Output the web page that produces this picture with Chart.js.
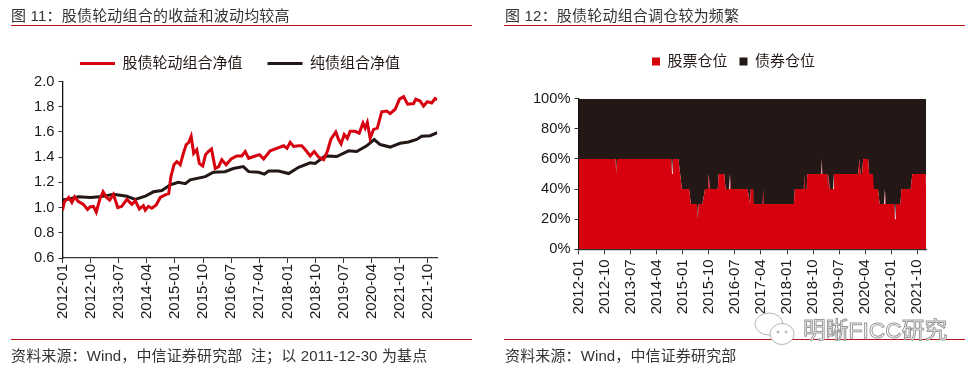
<!DOCTYPE html>
<html>
<head>
<meta charset="utf-8">
<script src="https://cdn.jsdelivr.net/npm/chart.js@4"></script>
<style>
  body { margin: 0; background: #fff; width: 978px; height: 373px; overflow: hidden; position: relative;
    font-family: "Liberation Sans", "Noto Sans CJK SC", sans-serif; color: #231815; }
  canvas { position: absolute; top: 0; }
  .title, .source { position: absolute; font-size: 15px; line-height: 18px; white-space: pre; color: #333; }
  .title { top: 7px; letter-spacing: 0.2px; }
  .source { top: 347px; letter-spacing: 0.13px; }
  .rule { position: absolute; height: 1px; background: #b8141a; }
  .mark { position: absolute; left: 803px; top: 315px; font-size: 22.8px; line-height: 30px; white-space: nowrap;
    color: #fff; -webkit-text-stroke: 1px #9a9a9a; }
  svg { position: absolute; left: 752px; top: 310px; }
</style>
</head>
<body>
<canvas id="chart-left" style="left:0"></canvas>
<canvas id="chart-right" style="left:490px"></canvas>

<div class="title" style="left:11px">图 11：股债轮动组合的收益和波动均较高</div>
<div class="rule" style="left:11px;width:461px;top:25px"></div>
<div class="rule" style="left:11px;width:461px;top:339px"></div>
<div class="source" style="left:11px">资料来源：Wind，中信证券研究部  注；以 2011-12-30 为基点</div>

<div class="title" style="left:505px">图 12：股债轮动组合调仓较为频繁</div>
<div class="rule" style="left:504px;width:461px;top:25px"></div>
<div class="rule" style="left:504px;width:461px;top:339px"></div>
<div class="source" style="left:505px">资料来源：Wind，中信证券研究部</div>

<svg width="46" height="38" fill="#fff" stroke="#b4b4b4" stroke-width="1">
  <ellipse cx="17" cy="14" rx="14" ry="11"/>
  <ellipse cx="30" cy="24" rx="12" ry="10.5"/>
  <circle cx="26" cy="22" r="1" fill="#a8a8a8"/>
  <circle cx="34" cy="22" r="1" fill="#a8a8a8"/>
</svg>
<div class="mark">明晰FICC研究</div>

<script>
// x positions below are months since 2012-01
const tickLabels = ["2012-01", "2012-10", "2013-07", "2014-04", "2015-01", "2015-10", "2016-07",
  "2017-04", "2018-01", "2018-10", "2019-07", "2020-04", "2021-01", "2021-10"];

const mixMonths = [0, 0.6, 2, 3, 3.9, 5, 6.7, 8, 8.8, 9.9, 10.8, 12, 13, 14.1, 15.1, 16.3, 17.7, 19, 20.6, 22.2, 23.3,
  24.6, 25.9, 26.5, 27.5, 28.6, 30, 31.3, 32.9, 34, 34.7, 35.7, 36.6, 37.7, 38.7, 39.6, 40.4, 41.2, 42, 43, 43.8, 44.9,
  45.8, 46.7, 47.7, 48.9, 50, 51, 52.4, 54, 55.8, 57.4, 58.5, 59.6, 61.2, 63.1, 64.4, 66.5, 68.6, 70.8, 71.9, 72.9,
  74, 75.6, 76.6, 77.7, 79.3, 80.6, 82, 83.6, 84.8, 85.9, 87.5, 88.4, 89.2, 90.2, 91.2, 92.1, 93.7, 95, 96.2, 96.9,
  97.6, 98.5, 99.6, 100.8, 102.2, 103.8, 104.9, 106.5, 107.9, 109.2, 110.5, 112.4, 113.1, 114.5, 115.6, 116.8, 118.2,
  119.3, 120];
const mixValues = [0.98, 1.045, 1.08, 1.04, 1.085, 1.05, 1.025, 0.985, 1.005, 1.01, 0.965, 1.07, 1.125, 1.08, 1.06, 1.105,
  1.0, 1.01, 1.065, 1.025, 1.055, 0.99, 1.015, 0.98, 1.01, 0.995, 1.02, 1.08, 1.10, 1.11, 1.245, 1.34, 1.365, 1.34, 1.43,
  1.5, 1.515, 1.565, 1.43, 1.46, 1.35, 1.33, 1.42, 1.445, 1.465, 1.31, 1.325, 1.38, 1.34, 1.385, 1.41, 1.41, 1.445, 1.39,
  1.405, 1.42, 1.385, 1.45, 1.47, 1.49, 1.47, 1.517, 1.485, 1.49, 1.49, 1.46, 1.41, 1.445, 1.40, 1.38, 1.445, 1.54, 1.6,
  1.54, 1.505, 1.58, 1.55, 1.605, 1.605, 1.59, 1.67, 1.63, 1.675, 1.55, 1.62, 1.63, 1.76, 1.765, 1.745, 1.78, 1.86, 1.88,
  1.82, 1.825, 1.86, 1.845, 1.805, 1.84, 1.83, 1.865, 1.855];

const bondMonths = [0, 2.5, 5.1, 8.9, 12, 16.3, 20.6, 23.3, 26.5, 29.1, 31.8, 34.5, 37.1, 39.3, 40.9, 45.7, 48.3, 52, 54.7,
  57.9, 59.6, 62.8, 64.6, 66, 69.2, 72.4, 75.6, 79.3, 80.9, 84.1, 87.8, 91.6, 94.2, 97.4, 99.8, 101.7, 104.9, 108.1, 110.8,
  113.4, 115, 117.7, 120];
const bondValues = [1.06, 1.07, 1.085, 1.08, 1.085, 1.105, 1.09, 1.065, 1.09, 1.125, 1.135, 1.18, 1.2, 1.19, 1.22, 1.245,
  1.28, 1.285, 1.31, 1.325, 1.285, 1.28, 1.265, 1.29, 1.29, 1.27, 1.32, 1.355, 1.35, 1.41, 1.405, 1.45, 1.445, 1.49, 1.54,
  1.5, 1.48, 1.51, 1.52, 1.54, 1.565, 1.57, 1.595];

const weightMonths = [0, 12.8, 13, 13.3, 32, 32.3, 32.6, 34.5, 35.1, 35.7, 38.2, 38.8, 40.9, 41.2, 41.5, 42.8, 43.7, 44.7, 45,
  45.3, 48.1, 48.4, 50.3, 50.8, 52, 52.3, 52.6, 58.4, 59.2, 59.5, 60.3, 60.5, 63.6, 63.8, 64, 74.4, 74.7, 77.8, 78, 78.2,
  78.8, 79, 83.8, 84, 84.2, 85.9, 86.1, 86.4, 86.7, 87.9, 88.2, 96.6, 97, 97.4, 97.9, 98.3, 100, 100.4, 101.7, 102, 103.4,
  104, 105.5, 105.8, 106.1, 109, 109.3, 109.6, 111.2, 111.5, 114.7, 115.3, 119.9, 120];
const stockWeights = [60, 60, 50, 60, 60, 50, 60, 60, 50, 40, 40, 30, 30, 20, 30, 30, 40, 40, 50,
  40, 40, 50, 50, 40, 40, 50, 40, 40, 30, 40, 40, 30, 30, 40, 30, 30, 40, 40, 50, 40,
  40, 50, 50, 60, 50, 50, 40, 50, 40, 40, 50, 50, 60, 50, 50, 60, 60, 50, 50, 40, 40,
  30, 30, 40, 30, 30, 20, 30, 30, 40, 40, 50, 50, 40];
const bondWeights = stockWeights.map(v => 100 - v);

const RED = "#d7000f";
const DARK = "#231815";
const FONT = '"Liberation Sans", "Noto Sans CJK SC", sans-serif';

Chart.defaults.font.family = FONT;
Chart.defaults.color = "#1a1a1a";
Chart.defaults.animation = false;
Chart.defaults.responsive = false;

function pairs(xs, ys) {
  return xs.map((x, i) => ({ x: x, y: ys[i] }));
}

// Fixes the room the legend takes and centres it over the whole canvas
function legendSpace(height) {
  return {
    id: "legendSpace",
    beforeInit(chart) {
      const fit = chart.legend.fit;
      chart.legend.fit = function () {
        fit.call(this);
        this.height = height;
      };
    },
    beforeDraw(chart) {
      chart.legend.right = chart.width;
    },
  };
}

// Legend keys without the outline, which would thicken the line sample
function flatKeys(chart) {
  return Chart.defaults.plugins.legend.labels.generateLabels(chart).map((item) => {
    item.lineWidth = 0;
    return item;
  });
}

function xAxis(height, padding) {
  return {
    type: "linear",
    min: 0,
    max: 120,
    border: { color: "#333", width: 1.3 },
    grid: { drawOnChartArea: false, tickLength: 5, color: "#333" },
    afterFit: (scale) => { scale.height = height; },
    ticks: {
      stepSize: 9,
      includeBounds: false,
      autoSkip: false,
      minRotation: 90,
      maxRotation: 90,
      padding: padding,
      font: { size: 15 },
      callback: (v) => tickLabels[v / 9],
    },
  };
}

function yAxis(width, ticks, extra) {
  return Object.assign({
    border: { color: "#111", width: 1.3 },
    grid: { drawOnChartArea: false, tickLength: 4, color: "#333" },
    afterFit: (scale) => { scale.width = width; },
    ticks: Object.assign({ padding: 4, font: { size: 14.7 } }, ticks),
  }, extra);
}

const leftCanvas = document.getElementById("chart-left");
leftCanvas.width = 480;
leftCanvas.height = 340;
new Chart(leftCanvas, {
  type: "line",
  data: {
    datasets: [
      { label: "股债轮动组合净值", data: pairs(mixMonths, mixValues), borderColor: RED, backgroundColor: RED,
        borderWidth: 3, pointRadius: 0, tension: 0 },
      { label: "纯债组合净值", data: pairs(bondMonths, bondValues), borderColor: DARK, backgroundColor: DARK,
        borderWidth: 3, pointRadius: 0, tension: 0 },
    ],
  },
  options: {
    layout: { padding: { top: 31, right: 42.7, left: 0, bottom: 0 } },
    plugins: {
      tooltip: { enabled: false },
      legend: {
        labels: { boxWidth: 35, boxHeight: 3, padding: 25, font: { size: 15 }, color: "#231815", generateLabels: flatKeys },
      },
    },
    scales: {
      x: xAxis(82, 1),
      y: yAxis(62.5, { stepSize: 0.2, callback: (v) => v.toFixed(1) }, { min: 0.6, max: 2 }),
    },
  },
  plugins: [legendSpace(50.5)],
});

const rightCanvas = document.getElementById("chart-right");
rightCanvas.width = 487;
rightCanvas.height = 340;
new Chart(rightCanvas, {
  type: "line",
  data: {
    datasets: [
      { label: "股票仓位", data: pairs(weightMonths, stockWeights), borderWidth: 0, borderColor: RED, backgroundColor: RED,
        fill: "origin", pointRadius: 0, tension: 0 },
      { label: "债券仓位", data: pairs(weightMonths, bondWeights), borderWidth: 0, borderColor: DARK, backgroundColor: DARK,
        fill: "-1", pointRadius: 0, tension: 0 },
    ],
  },
  options: {
    layout: { padding: { top: 42, right: 51, left: 0, bottom: 0 } },
    plugins: {
      tooltip: { enabled: false },
      legend: {
        labels: { boxWidth: 8, boxHeight: 8, padding: 12, font: { size: 15 }, color: "#231815", generateLabels: flatKeys },
      },
    },
    scales: {
      x: xAxis(90.7, 5),
      y: yAxis(88.5, { stepSize: 20, callback: (v) => v + "%" }, { min: 0, max: 100, stacked: true }),
    },
  },
  plugins: [legendSpace(56.7)],
});
</script>
</body>
</html>
